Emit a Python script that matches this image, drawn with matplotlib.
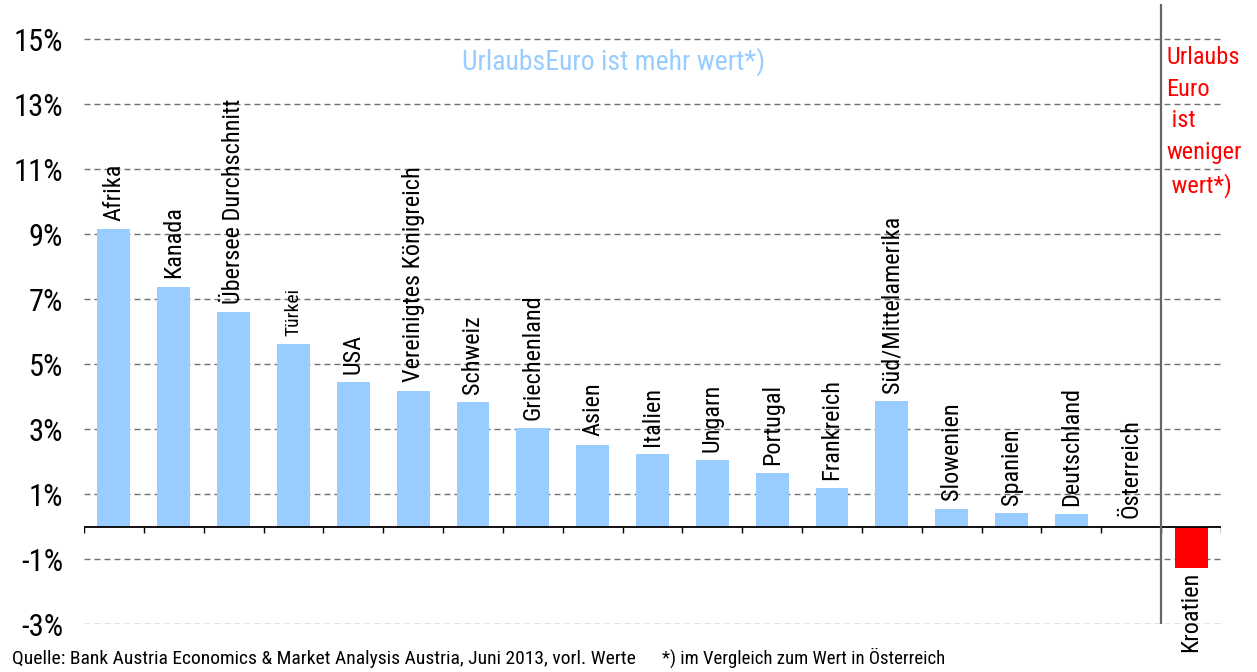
import matplotlib
matplotlib.use("Agg")
import matplotlib.pyplot as plt
from matplotlib import font_manager

names = {f.name for f in font_manager.fontManager.ttflist}
FONT = "DejaVu Sans"
for cand in ["Liberation Sans Narrow", "Arial Narrow", "Roboto Condensed", "Archivo Narrow"]:
    if cand in names:
        FONT = cand
        break
plt.rcParams["font.family"] = [FONT, "DejaVu Sans"]
plt.rcParams["lines.scale_dashes"] = False

categories = ["Afrika", "Kanada", "Übersee Durchschnitt", "Türkei", "USA",
              "Vereinigtes Königreich", "Schweiz", "Griechenland", "Asien", "Italien",
              "Ungarn", "Portugal", "Frankreich", "Süd/Mittelamerika", "Slowenien",
              "Spanien", "Deutschland", "Österreich", "Kroatien"]
values = [9.15, 7.39, 6.61, 5.61, 4.45, 4.19, 3.83, 3.03, 2.53, 2.23,
          2.04, 1.64, 1.18, 3.86, 0.56, 0.41, 0.38, 0.0, -1.27]
yticks = [-3, -1, 1, 3, 5, 7, 9, 11, 13, 15]
ytick_labels = ["-3%", "-1%", "1%", "3%", "5%", "7%", "9%", "11%", "13%", "15%"]

BLUE = "#99CCFF"
RED = "#FF0000"

fig = plt.figure(figsize=(12.57, 6.72), dpi=100)
ax = fig.add_axes([84 / 1257, 47.7 / 672, 1137 / 1257, 620.3 / 672])

n = len(categories)
x = list(range(n))
colors = [RED if v < 0 else BLUE for v in values]
ax.bar(x, values, width=0.55, color=colors, zorder=3)

ax.set_xlim(-0.5, n - 0.5)
ax.set_ylim(-3, 16.08)

# grid
for t in yticks:
    ax.axhline(t, color="#707070", lw=1.0, ls=(0, (4.3, 2.9)), zorder=1)

ax.set_yticks(yticks)
ax.set_yticklabels(ytick_labels, fontsize=22)
ax.tick_params(axis="y", length=0, pad=15)

# x axis line at zero with boundary ticks
ax.axhline(0, color="black", lw=1.3, zorder=4)
for b in range(n + 1):
    ax.plot([b - 0.5, b - 0.5], [0, -0.19], color="black", lw=1.0, zorder=4,
            solid_capstyle="butt")
ax.set_xticks([])

for s in ax.spines.values():
    s.set_visible(False)

# separator line
ax.axvline(n - 1.5, color="#666666", lw=1.6, zorder=5)

# labels
for i, (c, v) in enumerate(zip(categories, values)):
    fs = 14 if c == "Türkei" else 17.5
    if v >= 0:
        ax.annotate(c, (i, v), xytext=(0, 6), textcoords="offset points",
                    rotation=90, ha="center", va="bottom", fontsize=fs, zorder=6)
    else:
        ax.annotate(c, (i, v), xytext=(0, -3), textcoords="offset points",
                    rotation=90, ha="center", va="top", fontsize=fs, zorder=6)

fig.text(614 / 1257, 1 - 62 / 672, "UrlaubsEuro ist mehr wert*)", color=BLUE,
         fontsize=20, ha="center", va="center")
fig.text(1166 / 1257, 1 - 46 / 672, "Urlaubs\nEuro\n ist\nweniger\n wert*)",
         color=RED, fontsize=17.6, ha="left", va="top", linespacing=1.48)

fig.text(12 / 1257, 1 - 664 / 672,
         "Quelle: Bank Austria Economics & Market Analysis Austria, Juni 2013, vorl. Werte",
         fontsize=14, ha="left", va="baseline")
fig.text(662 / 1257, 1 - 664 / 672,
         "*) im Vergleich zum Wert in Österreich",
         fontsize=13.5, ha="left", va="baseline")

fig.savefig("out.png", dpi=100)
